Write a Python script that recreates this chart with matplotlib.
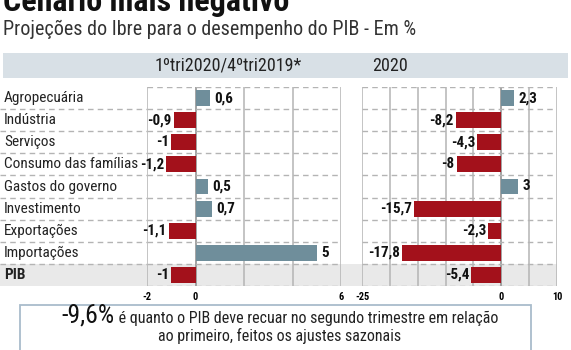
import matplotlib
matplotlib.use('Agg')
import matplotlib.pyplot as plt
from matplotlib.patches import Rectangle
from matplotlib import font_manager

# dados
categorias = ['Agropecuária', 'Indústria', 'Serviços', 'Consumo das famílias',
              'Gastos do governo', 'Investimento', 'Exportações', 'Importações', 'PIB']
tri = [0.6, -0.9, -1, -1.2, 0.5, 0.7, -1.1, 5, -1]
ano = [2.3, -8.2, -4.3, -8, 3, -15.7, -2.3, -17.8, -5.4]
rot_tri = ['0,6', '-0,9', '-1', '-1,2', '0,5', '0,7', '-1,1', '5', '-1']
rot_ano = ['2,3', '-8,2', '-4,3', '-8', '3', '-15,7', '-2,3', '-17,8', '-5,4']

nomes = {f.name for f in font_manager.fontManager.ttflist}
fonte = 'DejaVu Sans'
for f in ['Liberation Sans Narrow', 'Roboto Condensed', 'Open Sans Condensed', 'Roboto']:
    if f in nomes:
        fonte = f
        break
plt.rcParams['font.family'] = [fonte, 'DejaVu Sans']

AZUL = '#6f8e9b'
VERM = '#a3111b'
GRADE = '#b4b4b4'

W, H = 571, 350
fig = plt.figure(figsize=(W / 100, H / 100), dpi=100)


def px(x0, y0, x1, y1):
    # caixa em pixels (origem no topo) -> coordenadas da figura
    return [x0 / W, 1 - y1 / H, (x1 - x0) / W, (y1 - y0) / H]


TOP, BOT = 87, 286
n = len(categorias)
row_h = (BOT - TOP) / n

# faixa do cabeçalho
fig.patches.append(Rectangle((3 / W, 1 - 78 / H), (568 - 3) / W, 25 / H,
                             transform=fig.transFigure, facecolor='#d8e0e6', edgecolor='none', zorder=-1))
# faixa cinza do PIB
fig.patches.append(Rectangle((0, 1 - BOT / H), 557 / W, row_h / H,
                             transform=fig.transFigure, facecolor='#e9e9e9', edgecolor='none', zorder=-1))

# titulo
fig.text(3 / W, 1 - 11 / H, 'Cenário mais negativo', fontsize=23, fontweight='heavy',
         va='baseline', ha='left', color='#111111')
fig.text(3 / W, 1 - 29 / H, 'Projeções do Ibre para o desempenho do PIB - Em %', fontsize=14.5,
         va='center', ha='left', color='#333333')
fig.text(228 / W, 1 - 66 / H, '1ºtri2020/4ºtri2019*', fontsize=13, va='center', ha='center', color='#222222')
fig.text(390 / W, 1 - 66 / H, '2020', fontsize=13, va='center', ha='center', color='#222222')

# area dos rotulos
axl = fig.add_axes(px(0, TOP, 147, BOT))
axl.patch.set_alpha(0)
axl.set_xlim(0, 1)
axl.set_ylim(n - 0.5, -0.5)
axl.axis('off')
for i, c in enumerate(categorias):
    axl.text(4 / 147, i, c, fontsize=11, va='center', ha='left', color='#222222',
             fontweight='bold' if c == 'PIB' else 'normal')
for b in range(n - 1):
    axl.axhline(b + 0.5, color=GRADE, lw=1, ls=(0, (4, 3)))


def painel(caixa, vals, rots, lim, passo, ticks):
    ax = fig.add_axes(px(*caixa))
    ax.patch.set_alpha(0)
    ax.set_xlim(*lim)
    ax.set_ylim(n - 0.5, -0.5)
    for s in ax.spines.values():
        s.set_visible(False)
    x = lim[0]
    while x <= lim[1] + 1e-9:
        ax.axvline(x, color='#8a8a8a' if x == 0 else GRADE, lw=1.1, zorder=1)
        x += passo
    for b in range(n + 1):
        ax.axhline(b - 0.5, color=GRADE, lw=1, ls=(0, (4, 3)), zorder=1)
    y = list(range(n))
    cores = [AZUL if v > 0 else VERM for v in vals]
    ax.barh(y, vals, height=0.72, color=cores, zorder=2)
    for yi, v, r in zip(y, vals, rots):
        if v > 0:
            ax.annotate(r, (v, yi), xytext=(3, 0), textcoords='offset points',
                        va='center', ha='left', fontsize=10.8, fontweight='bold', color='#111111')
        else:
            ax.annotate(r, (v, yi), xytext=(-1.5, 0), textcoords='offset points',
                        va='center', ha='right', fontsize=10.8, fontweight='bold', color='#111111')
    ax.set_xticks(ticks)
    ax.set_xticklabels([str(t) for t in ticks], fontsize=7.5, fontweight='bold')
    ax.tick_params(axis='x', length=0, pad=4)
    ax.set_yticks([])
    return ax


painel((147, TOP, 341, BOT), tri, rot_tri, (-2, 6), 2, [-2, 0, 6])
painel((362, TOP, 557, BOT), ano, rot_ano, (-25, 10), 5, [-25, 0, 10])

# caixa de destaque
fig.patches.append(Rectangle((20 / W, -0.1), (531 - 20) / W, 0.1 + (1 - 305 / H),
                             transform=fig.transFigure, facecolor='white', edgecolor='#a9bccb',
                             lw=1.3, zorder=1))

t1 = fig.text(0, 1 - 323 / H, '-9,6%', fontsize=18.5, va='baseline', ha='left', color='#111111')
t2 = fig.text(0, 1 - 323 / H, ' é quanto o PIB deve recuar no segundo trimestre em relação',
              fontsize=11.5, va='baseline', ha='left', color='#222222')
r = fig.canvas.get_renderer()
w1 = t1.get_window_extent(r).width
w2 = t2.get_window_extent(r).width
x0 = 280 - (w1 + w2) / 2
t1.set_x(x0 / W)
t2.set_x((x0 + w1) / W)
fig.text(280 / W, 1 - 341 / H, 'ao primeiro, feitos os ajustes sazonais', fontsize=11.5,
         va='baseline', ha='center', color='#222222')

fig.savefig('out.png', dpi=100)
